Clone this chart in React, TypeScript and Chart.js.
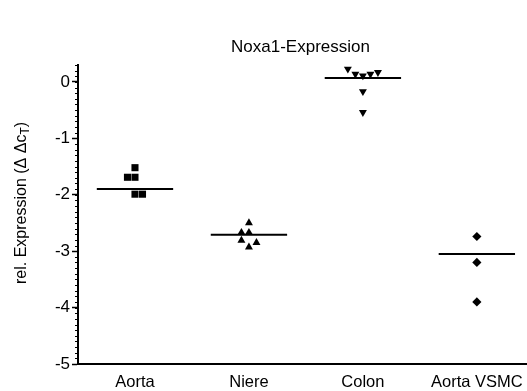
import React, { useEffect, useRef } from 'react';
import { Chart, registerables } from 'chart.js';

Chart.register(...registerables);

const TITLE = 'Noxa1-Expression';
const Y_TITLE_MAIN = 'rel. Expression (\u0394 \u0394c';
const Y_TITLE_SUB = 'T';
const Y_TITLE_END = ')';

const categories = ['Aorta', 'Niere', 'Colon', 'Aorta VSMC'];

const aortaValues = [-1.52, -1.69, -1.69, -1.99, -1.99];
const aortaSlots = [0, -1, 0, 0, 1];
const niereValues = [-2.5, -2.67, -2.67, -2.81, -2.85, -2.93];
const niereSlots = [0, -1, 0, -1, 1, 0];
const colonValues = [0.23, 0.14, 0.11, 0.14, 0.17, -0.17, -0.54];
const colonSlots = [-2, -1, 0, 1, 2, 0, 0];
const vsmcValues = [-2.74, -3.2, -3.9];
const vsmcSlots = [0, 0, 0];
const centerLines = [-1.9, -2.71, 0.07, -3.05];

const yTicks = [0, -1, -2, -3, -4, -5];
const Y_MIN = -5;
const Y_MAX = 0.3;
const X_MIN = 0.5;
const X_MAX = 4.44;

const SLOT = 0.066;
const HALF_LINE = 0.335;
const FONT = '"Liberation Sans", Arial, Helvetica, sans-serif';

const groups = [
  { values: aortaValues, slots: aortaSlots, style: 'rect', radius: 5, rotation: 0 },
  { values: niereValues, slots: niereSlots, style: 'triangle', radius: 4.6, rotation: 0 },
  { values: colonValues, slots: colonSlots, style: 'triangle', radius: 4.6, rotation: 180 },
  { values: vsmcValues, slots: vsmcSlots, style: 'rectRot', radius: 4.6, rotation: 0 },
];

const decor = {
  id: 'decor',
  afterDraw(chart: any) {
    const ctx = chart.ctx;
    const ys = chart.scales.y;
    const area = chart.chartArea;
    ctx.save();
    ctx.strokeStyle = '#000';
    ctx.lineWidth = 1;
    for (let k = Math.round(Y_MIN * 10); k <= Math.round(Y_MAX * 10); k++) {
      const py = Math.round(ys.getPixelForValue(k / 10)) + 0.5;
      ctx.beginPath();
      ctx.moveTo(area.left - 3, py);
      ctx.lineTo(area.left, py);
      ctx.stroke();
    }
    ctx.fillStyle = '#000';
    ctx.font = `17px ${FONT}`;
    ctx.textAlign = 'center';
    ctx.textBaseline = 'middle';
    ctx.fillText(TITLE, (area.left + area.right) / 2 - 2, 47);

    // y-axis title with subscript
    ctx.translate(22, 203);
    ctx.rotate(-Math.PI / 2);
    ctx.textAlign = 'left';
    ctx.textBaseline = 'middle';
    const mainFont = `16px ${FONT}`;
    const subFont = `12px ${FONT}`;
    ctx.font = mainFont;
    const w1 = ctx.measureText(Y_TITLE_MAIN).width;
    const w3 = ctx.measureText(Y_TITLE_END).width;
    ctx.font = subFont;
    const w2 = ctx.measureText(Y_TITLE_SUB).width;
    let x = -(w1 + w2 + w3) / 2;
    ctx.font = mainFont;
    ctx.fillText(Y_TITLE_MAIN, x, 0);
    x += w1;
    ctx.font = subFont;
    ctx.fillText(Y_TITLE_SUB, x, 4);
    x += w2;
    ctx.font = mainFont;
    ctx.fillText(Y_TITLE_END, x, 0);
    ctx.restore();
  },
};

export default function App() {
  const ref = useRef<HTMLCanvasElement | null>(null);

  useEffect(() => {
    if (!ref.current) return;
    const datasets: any[] = [];
    groups.forEach((g, i) => {
      datasets.push({
        type: 'scatter',
        data: g.values.map((v, j) => ({ x: i + 1 + g.slots[j] * SLOT, y: v })),
        pointStyle: g.style,
        pointRadius: g.radius,
        rotation: g.rotation,
        backgroundColor: '#000',
        borderColor: '#000',
        borderWidth: 0,
        showLine: false,
      });
    });
    centerLines.forEach((c, i) => {
      datasets.push({
        type: 'line',
        data: [
          { x: i + 1 - HALF_LINE, y: c },
          { x: i + 1 + HALF_LINE, y: c },
        ],
        borderColor: '#000',
        borderWidth: 2,
        pointRadius: 0,
        showLine: true,
        fill: false,
      });
    });

    const chart = new Chart(ref.current, {
      type: 'scatter',
      data: { datasets },
      plugins: [decor],
      options: {
        responsive: false,
        animation: false,
        events: [],
        layout: { autoPadding: false, padding: { left: 0, right: 0, top: 65, bottom: 0 } },
        plugins: { legend: { display: false }, tooltip: { enabled: false }, title: { display: false } },
        scales: {
          x: {
            type: 'linear',
            min: X_MIN,
            max: X_MAX,
            afterBuildTicks: (s: any) => {
              s.ticks = categories.map((_, i) => ({ value: i + 1 }));
            },
            afterFit: (s: any) => {
              s.height = 27;
              s.paddingLeft = 0;
              s.paddingRight = 0;
            },
            ticks: {
              autoSkip: false,
              maxRotation: 0,
              padding: 9,
              color: '#000',
              font: { family: FONT, size: 16.5 },
              callback: (v: any) => categories[Math.round(Number(v)) - 1] ?? '',
            },
            grid: { drawOnChartArea: false, drawTicks: false, color: 'transparent' },
            border: { display: true, color: '#000', width: 2 },
          },
          y: {
            type: 'linear',
            min: Y_MIN,
            max: Y_MAX,
            afterBuildTicks: (s: any) => {
              s.ticks = yTicks.map((v) => ({ value: v }));
            },
            afterFit: (s: any) => {
              s.width = 78;
              s.paddingTop = 0;
              s.paddingBottom = 0;
            },
            ticks: {
              autoSkip: false,
              padding: 2,
              color: '#000',
              font: { family: FONT, size: 17 },
              callback: (v: any) => String(v),
            },
            grid: { drawOnChartArea: false, drawTicks: true, tickLength: 6, color: '#000', tickWidth: 1.5 },
            border: { display: true, color: '#000', width: 2 },
          },
        },
      },
    } as any);
    return () => chart.destroy();
  }, []);

  return (
    <div style={{ position: 'absolute', left: 0, top: 0, width: 527, height: 391, background: '#fff' }}>
      <canvas ref={ref} width={527} height={391} style={{ display: 'block' }} />
    </div>
  );
}
